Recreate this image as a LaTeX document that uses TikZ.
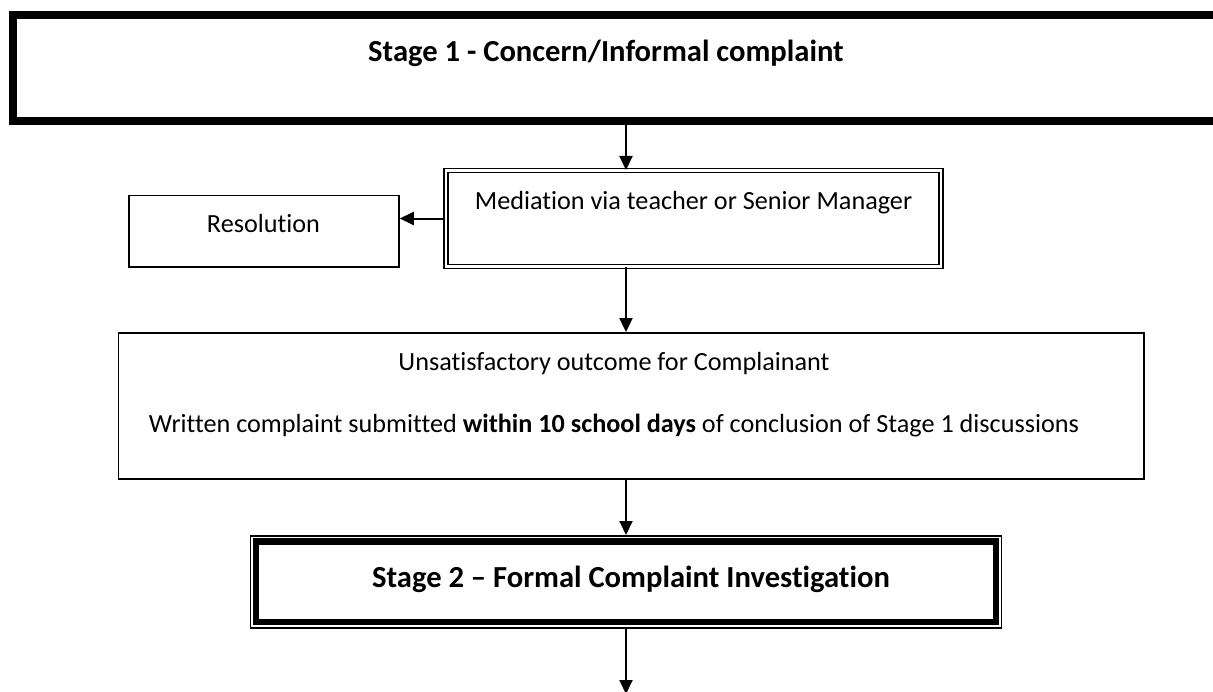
\documentclass[tikz,border=0pt]{standalone}
\usepackage{fontspec}
\setmainfont[Ligatures=NoCommon]{Carlito}
\usetikzlibrary{arrows.meta,positioning}

\tikzset{
  boxline/.style={draw, line width=1.5bp, inner sep=0pt},
  twinline/.style={draw, double, line width=1.5bp, double distance=2.5bp, inner sep=0pt},
  heavyline/.style={draw, line width=7.5bp, inner sep=0pt},
  hairline/.style={draw, line width=1.8bp},
  flowarrow/.style={-{Triangle[length=14bp,width=13bp]}, line width=2bp},
  bodytext/.style={font=\fontsize{26.2bp}{30bp}\selectfont, inner sep=0pt},
  titletext/.style={font=\fontsize{30.6bp}{36bp}\selectfont\bfseries, inner sep=0pt}
}

\begin{document}
\begin{tikzpicture}[x=1bp, y=-1bp]
\clip (0,0) rectangle (1213,692);
%% boxes
\node (stage1) [heavyline, minimum width=1227bp, minimum height=106bp] at (626.5,68) {};
\node (mediation) [twinline, minimum width=495bp, minimum height=95.5bp] at (693.6,218.5) {};
\node (resolution) [boxline, minimum width=270.2bp, minimum height=71.5bp] at (263.9,231.25) {};
\node (outcome) [boxline, minimum width=1025.5bp, minimum height=146.2bp] at (631.25,405.9) {};
\node (stage2) [boxline, minimum width=751bp, minimum height=92bp] at (626,581.75) {};
%% inner frames
\draw [hairline] ([shift={(6.5bp,-6.5bp)}]stage1.north west) rectangle ([shift={(-6.5bp,6.5bp)}]stage1.south east);
\draw [line width=6.5bp] ([shift={(6.5bp,-6.5bp)}]stage2.north west) rectangle ([shift={(-6.5bp,6.5bp)}]stage2.south east);
%% texts
\node (stage1title) [titletext, anchor=base] at (606,62) {Stage 1 - Concern/Informal complaint};
\node (mediationtext) [bodytext, anchor=base] at (693.5,209.5) {Mediation via teacher or Senior Manager};
\node (resolutiontext) [bodytext, anchor=base] at (263.5,232.3) {Resolution};
\node (outcometext) [bodytext, anchor=base] at (614,370) {Unsatisfactory outcome for Complainant};
\node (deadlinetext) [bodytext, anchor=base] at (614,432) {Written complaint submitted \textbf{within 10 school days} of conclusion of Stage 1 discussions};
\node (stage2title) [titletext, anchor=base] at (631,587) {Stage 2 – Formal Complaint Investigation};
%% arrows
\coordinate (spine) at (626,0);
\coordinate (stage3) at (626,694);
\draw [flowarrow] (stage1.south -| spine) -- (mediation.north -| spine);
\draw [flowarrow] (mediation.west) -- (mediation.west -| resolution.east);
\draw [flowarrow] (mediation.south -| spine) -- (outcome.north -| spine);
\draw [flowarrow] (outcome.south -| spine) -- (stage2.north -| spine);
\draw [flowarrow] (stage2.south -| spine) -- (stage3);
\end{tikzpicture}
\end{document}
